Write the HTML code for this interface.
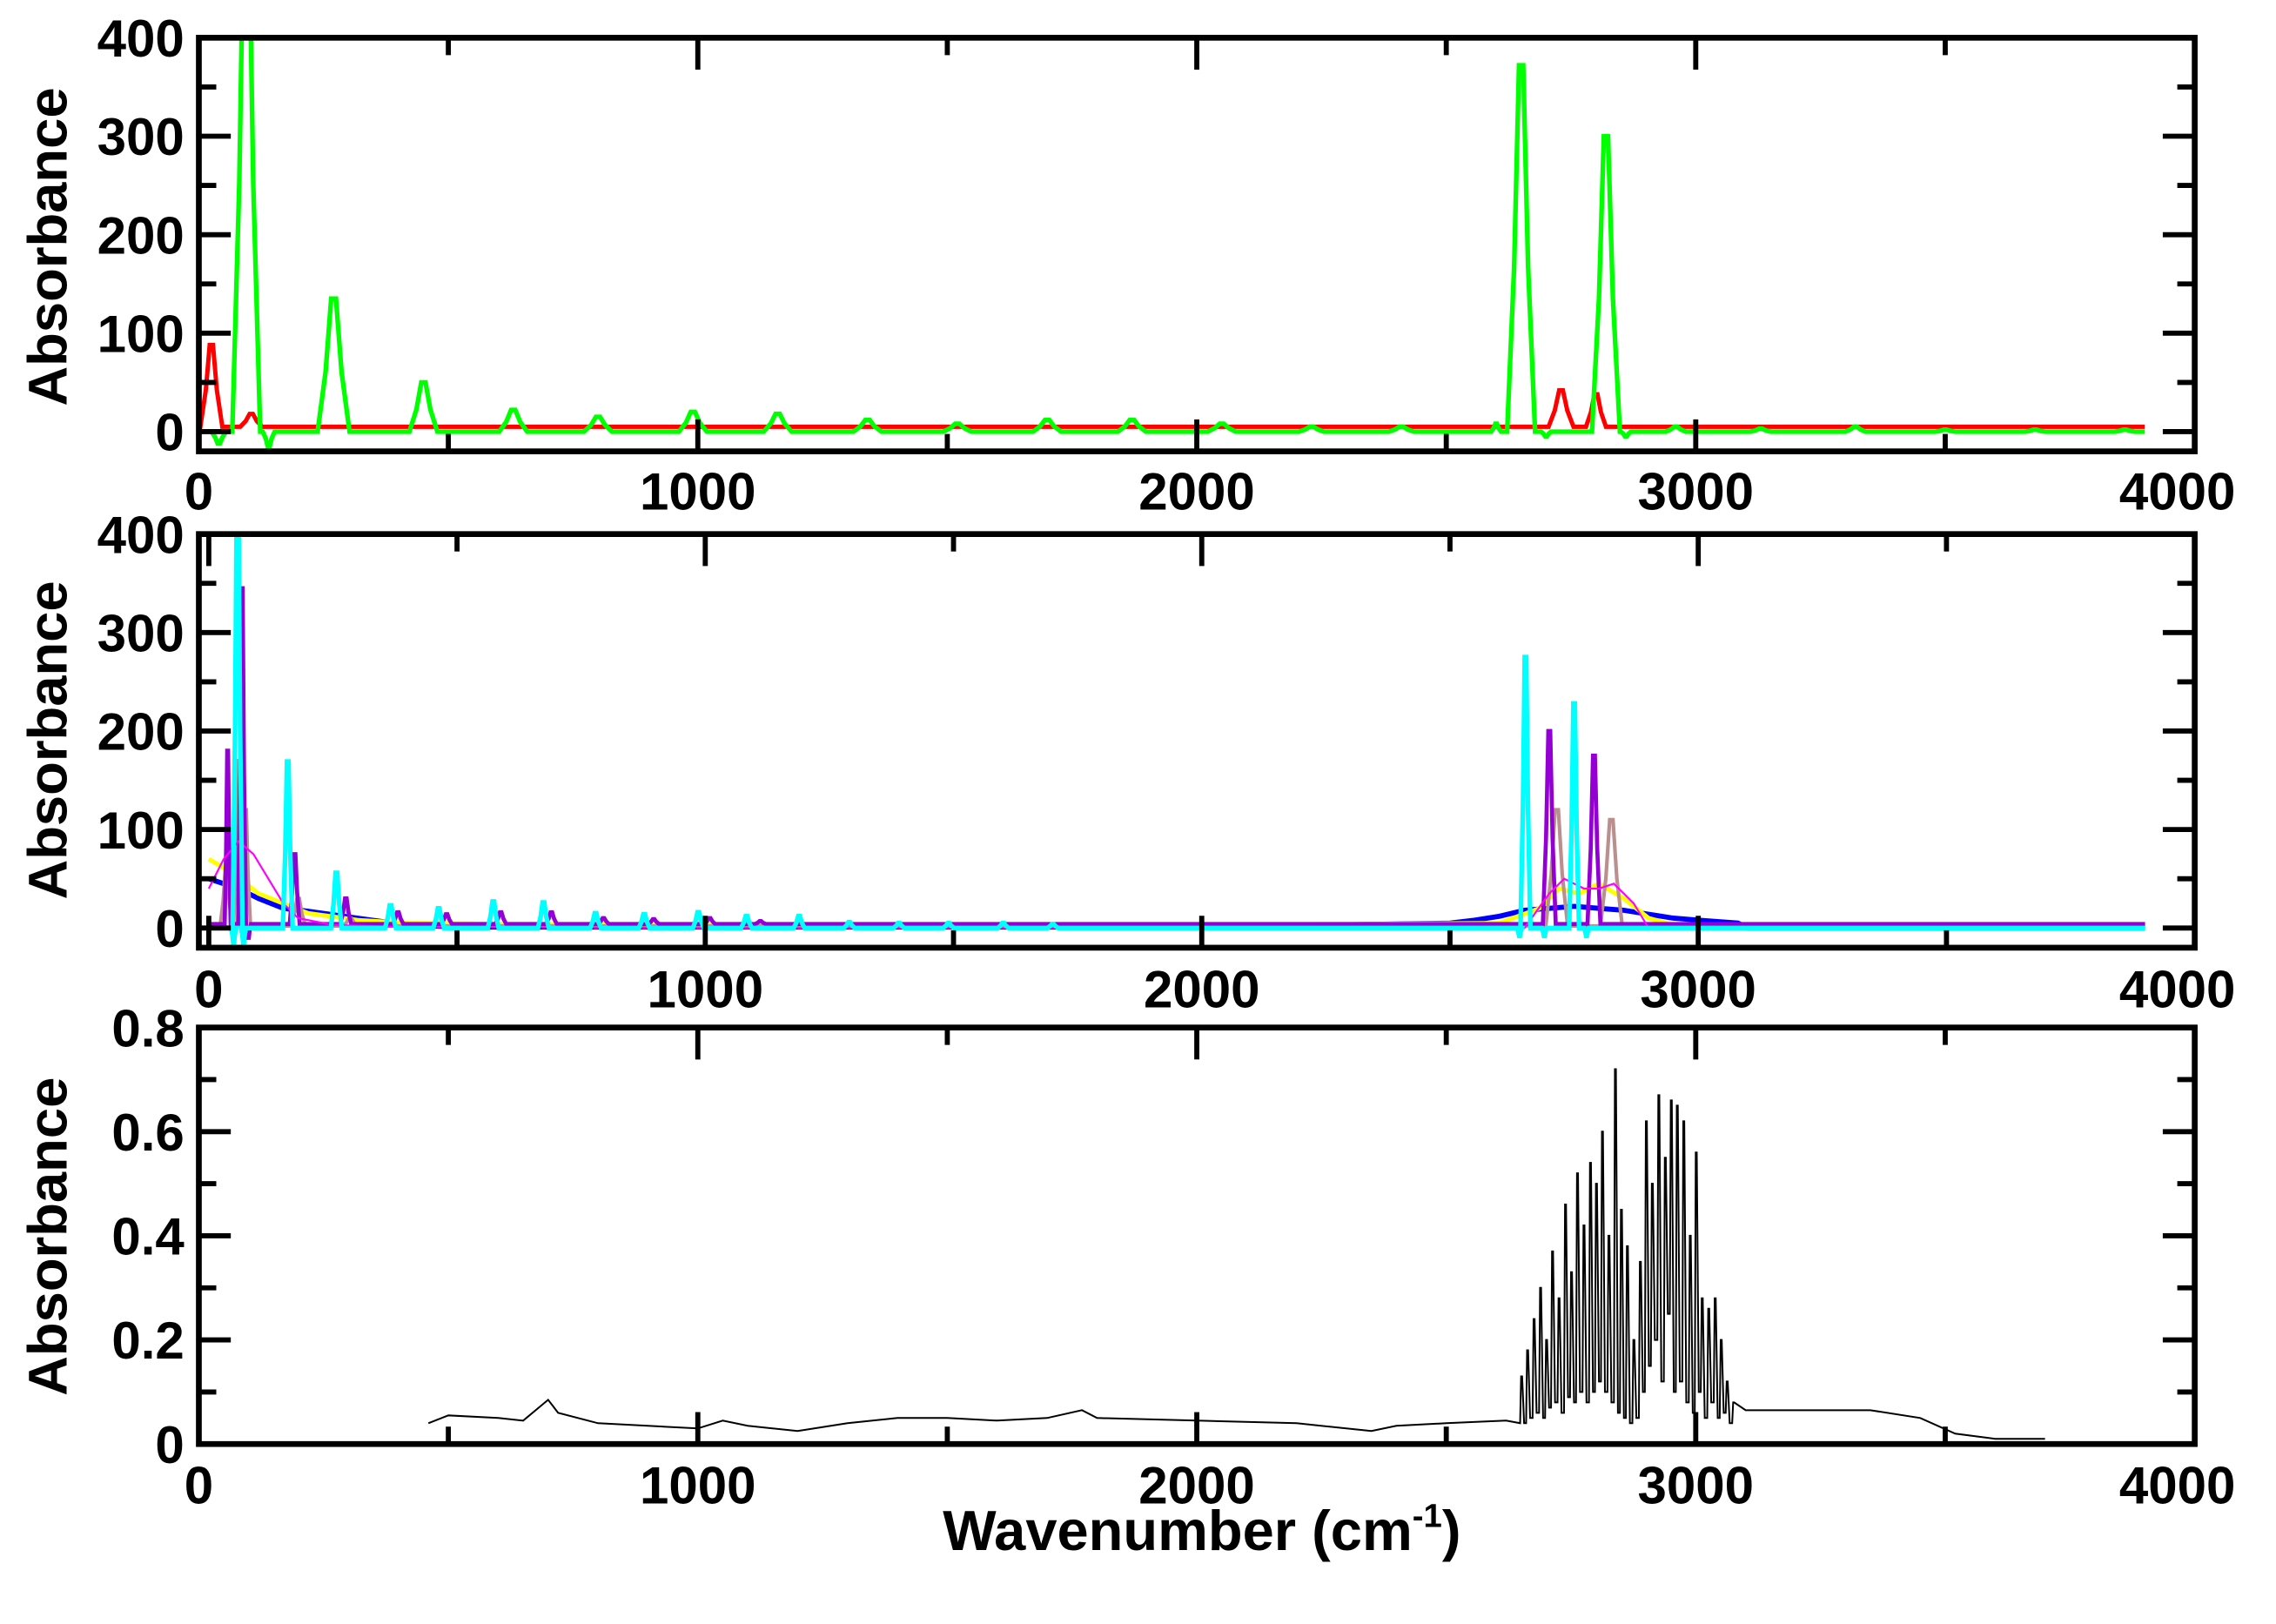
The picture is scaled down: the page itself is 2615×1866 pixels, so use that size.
<!DOCTYPE html>
<html><head><meta charset="utf-8"><style>
html,body{margin:0;padding:0;background:#fff;}
svg{display:block;}
text{font-family:"Liberation Sans",Arial,sans-serif;font-weight:bold;fill:#000;}
</style></head>
<body>
<svg id="fig" width="2615" height="1866" viewBox="0 0 1568 1119" preserveAspectRatio="none" xmlns="http://www.w3.org/2000/svg">
<rect x="0" y="0" width="1568" height="1119" fill="#fff"/>
<text x="828" y="1068" font-size="39" text-anchor="middle">Wavenumber (cm<tspan font-size="23" dy="-16">-1</tspan><tspan dy="16">)</tspan></text>
</svg>
<script>
// ---------- Panel 1 data (peak centres, heights, half-widths) ----------
const greenCenters = [40, 95, 140, 270, 450, 630, 800, 990, 1160, 1340, 1520, 1700, 1870, 2050, 2230, 2410, 2600, 2650, 2700, 2820, 2860, 2960, 3130, 3320, 3500, 3680, 3860];
const greenHeights = [-12, 560, -15, 135, 50, 22, 15, 20, 18, 12, 8, 12, 12, 8, 5, 5, 8, 372, -5, 300, -5, 5, 3, 5, 2, 2, 2];
const greenWidths  = [15, 28, 12, 32, 28, 28, 28, 28, 28, 28, 28, 28, 28, 28, 25, 25, 10, 28, 10, 28, 10, 20, 20, 20, 20, 20, 20];
const redCenters = [25, 105, 2730, 2800];
const redHeights = [88, 18, 42, 38];
const redWidths  = [22, 22, 25, 20];
const redBase = 5;
// ---------- Panel 2 data ----------
const cyanCenters = [50, 58, 70, 159, 257, 366, 463, 573, 674, 779, 877, 986, 1083, 1189, 1290, 1390, 1490, 1600, 1700, 2640, 2652, 2690, 2750, 2775];
const cyanHeights = [-15, 450, -15, 169, 56, 23, 20, 27, 26, 15, 14, 16, 12, 12, 6, 5, 5, 5, 4, -8, 275, -8, 228, -8];
const cyanWidths  = [5, 10, 5, 10, 11, 11, 11, 11, 11, 11, 11, 11, 11, 11, 11, 11, 11, 11, 11, 5, 10, 5, 10, 5];
const purpleCenters = [38, 67, 80, 173, 276, 381, 479, 588, 690, 795, 896, 1009, 1111, 2700, 2790];
const purpleHeights = [180, 345, -10, 75, 30, 16, 14, 16, 16, 10, 9, 10, 7, 200, 175];
const purpleWidths  = [6, 8, 5, 10, 11, 11, 11, 11, 11, 11, 11, 11, 11, 13, 13];
const purpleBase = 4;
const brownCenters = [35, 60, 74, 180, 285, 2715, 2825];
const brownHeights = [60, 170, 120, 30, 10, 120, 110];
const brownWidths  = [12, 10, 10, 15, 15, 22, 22];
const brownBase = 2;
const yellowX = [0, 50, 100, 150, 200, 300, 400, 600, 1000, 2000, 2600, 2680, 2720, 2760, 2800, 2850, 2900, 2950, 3000, 3900];
const yellowY = [70, 55, 35, 25, 15, 8, 5, 4, 3, 3, 5, 20, 40, 35, 45, 30, 10, 3, 2, 2];
const magentaX = [0, 30, 60, 90, 120, 150, 180, 250, 400, 1000, 2000, 2650, 2700, 2730, 2770, 2800, 2830, 2870, 2900, 3900];
const magentaY = [40, 70, 88, 75, 50, 25, 10, 3, 1, 0, 0, 0, 35, 50, 40, 40, 45, 25, 0, 0];
const blueX = [0, 60, 100, 150, 200, 300, 400, 500, 2000, 2500, 2550, 2600, 2650, 2700, 2750, 2800, 2850, 2900, 2950, 3000, 3080, 3100, 3900];
const blueY = [50, 40, 30, 20, 17, 10, 3, 1, 1, 5, 8, 12, 18, 20, 22, 20, 18, 14, 10, 8, 5, 0, 0];
// ---------- Panel 3 data ----------
const blackBaseX = [460, 500, 600, 650, 700, 720, 800, 900, 1000, 1050, 1100, 1200, 1300, 1400, 1500, 1600, 1700, 1770, 1800, 2000, 2200, 2350, 2400, 2500, 2620];
const blackBaseY = [0.04, 0.055, 0.05, 0.045, 0.085, 0.06, 0.04, 0.035, 0.03, 0.045, 0.035, 0.025, 0.04, 0.05, 0.05, 0.045, 0.05, 0.065, 0.05, 0.045, 0.04, 0.025, 0.035, 0.04, 0.045];
const spikeX = [2650, 2662, 2675, 2688, 2700, 2712, 2725, 2738, 2750, 2762, 2775, 2788, 2800, 2812, 2825, 2838, 2850, 2862, 2875, 2888, 2900, 2912, 2925, 2938, 2950, 2962, 2975, 2988, 3000, 3012, 3025, 3038, 3050, 3062, 3075];
const spikeY = [0.13, 0.18, 0.24, 0.30, 0.20, 0.37, 0.28, 0.46, 0.33, 0.52, 0.42, 0.54, 0.50, 0.60, 0.40, 0.72, 0.45, 0.38, 0.20, 0.35, 0.62, 0.50, 0.67, 0.55, 0.66, 0.65, 0.62, 0.40, 0.56, 0.28, 0.26, 0.28, 0.20, 0.12, 0.08];
const troughY = [0.04, 0.05, 0.06, 0.05, 0.07, 0.08, 0.06, 0.09, 0.08, 0.10, 0.08, 0.10, 0.12, 0.10, 0.08, 0.06, 0.05, 0.04, 0.05, 0.10, 0.15, 0.20, 0.12, 0.25, 0.10, 0.12, 0.08, 0.06, 0.10, 0.05, 0.08, 0.05, 0.06, 0.04];
const tailX = [3100, 3350, 3450, 3520, 3600, 3700];
const tailY = [0.065, 0.065, 0.05, 0.02, 0.01, 0.01];

const NS = 'http://www.w3.org/2000/svg';
const svg = document.getElementById('fig');
function mk(tag, attrs, parent) {
  const e = document.createElementNS(NS, tag);
  for (const k in attrs) e.setAttribute(k, attrs[k]);
  (parent || svg).appendChild(e);
  return e;
}
const panels = [
  {name: 'top', top: 26, bottom: 311, xmin: 0, xmax: 4000, ymin: -20, ymax: 400, major: 100, minor: 50, labels: ['0','100','200','300','400'], lblBase: 351, titleY: 170},
  {name: 'middle', top: 368, bottom: 653, xmin: -20, xmax: 4000, ymin: -20, ymax: 400, major: 100, minor: 50, labels: ['0','100','200','300','400'], lblBase: 694, titleY: 510},
  {name: 'bottom', top: 708, bottom: 995, xmin: 0, xmax: 4000, ymin: 0, ymax: 0.8, major: 0.2, minor: 0.1, labels: ['0','0.2','0.4','0.6','0.8'], lblBase: 1036, titleY: 852}
];
const L = 137, R = 1512;
panels.forEach(p => {
  p.sx = v => L + (v - p.xmin) / (p.xmax - p.xmin) * (R - L);
  p.sy = v => p.bottom - (v - p.ymin) / (p.ymax - p.ymin) * (p.bottom - p.top);
  const g = mk('g', {});
  
  
  p.g = g;
  const cp = mk('clipPath', {id: 'clip-' + p.name}, g);
  mk('rect', {x: L, y: p.top, width: R - L, height: p.bottom - p.top}, cp);
  p.plot = mk('g', {'clip-path': 'url(#clip-' + p.name + ')'}, g);
  
  
});
function line(p, xs, ys, color, w, name) {
  const d = xs.map((x, i) => (i ? 'L' : 'M') + p.sx(x).toFixed(2) + ' ' + p.sy(ys[i]).toFixed(2)).join(' ');
  const e = mk('path', {d: d, fill: 'none', stroke: color, 'stroke-width': w, 'stroke-linejoin': 'miter'}, p.plot);
  
  
}
function peaksToLine(centers, heights, widths, base, x0, x1) {
  const xs = [x0], ys = [base];
  centers.forEach((c, i) => {
    const w = widths[i], h = heights[i];
    xs.push(c - w, c - w * 0.5, c - w * 0.15, c + w * 0.15, c + w * 0.5, c + w);
    ys.push(base, base + (h - base) * 0.45, h, h, base + (h - base) * 0.45, base);
  });
  xs.push(x1); ys.push(base);
  return [xs, ys];
}
// Panel 1
const P1 = panels[0];
let r = peaksToLine(redCenters, redHeights, redWidths, redBase, 0, 3900);
line(P1, r[0], r[1], '#ff0000', 3, 'red-series');
r = peaksToLine(greenCenters, greenHeights, greenWidths, 0, 0, 3900);
line(P1, r[0], r[1], '#00ff00', 3.2, 'green-series');
// Panel 2
const P2 = panels[1];
line(P2, blueX, blueY, '#0000ff', 3.5, 'blue-series');
line(P2, yellowX, yellowY, '#ffff00', 3, 'yellow-series');
r = peaksToLine(brownCenters, brownHeights, brownWidths, brownBase, 0, 3900);
line(P2, r[0], r[1], '#bc8f8f', 2.5, 'brown-series');
r = peaksToLine(purpleCenters, purpleHeights, purpleWidths, purpleBase, 0, 3900);
line(P2, r[0], r[1], '#9400d3', 2.8, 'purple-series');
line(P2, magentaX, magentaY, '#ff00ff', 1.3, 'magenta-series');
r = peaksToLine(cyanCenters, cyanHeights, cyanWidths, 0, 0, 3900);
line(P2, r[0], r[1], '#00ffff', 3.2, 'cyan-series');
// Panel 3
const P3 = panels[2];
const bx = blackBaseX.slice(), by = blackBaseY.slice();
spikeX.forEach((x, i) => {
  bx.push(x - 2, x, x + 2); by.push(i ? troughY[i - 1] : 0.04, spikeY[i], spikeY[i]);
  if (i < troughY.length) { bx.push(x + 6); by.push(troughY[i]); }
});
tailX.forEach((x, i) => { bx.push(x); by.push(tailY[i]); });
line(P3, bx, by, '#000', 1.2, 'black-series');
// Axes, ticks, labels
panels.forEach(p => {
  const g = p.g;
  const fr = mk('rect', {x: L, y: p.top, width: R - L, height: p.bottom - p.top, fill: 'none', stroke: '#000', 'stroke-width': 4}, g);
  
  
  for (let v = 0; v <= p.ymax + 1e-9; v += p.minor) {
    const isMaj = Math.abs(v / p.major - Math.round(v / p.major)) < 1e-6;
    const len = isMaj ? 22 : 12, y = p.sy(v);
    mk('line', {x1: L, x2: L + len, y1: y, y2: y, stroke: '#000', 'stroke-width': 3.5}, g);
    mk('line', {x1: R, x2: R - len, y1: y, y2: y, stroke: '#000', 'stroke-width': 3.5}, g);
  }
  for (let v = 0; v <= 4000; v += 500) {
    const len = v % 1000 === 0 ? 22 : 12, x = p.sx(v);
    mk('line', {x1: x, x2: x, y1: p.bottom, y2: p.bottom - len, stroke: '#000', 'stroke-width': 3.5}, g);
    mk('line', {x1: x, x2: x, y1: p.top, y2: p.top + len, stroke: '#000', 'stroke-width': 3.5}, g);
  }
  p.labels.forEach((t, i) => {
    const e = mk('text', {x: 127, y: p.sy(i * p.major) + 13, 'font-size': 36, 'text-anchor': 'end'}, g);
    e.textContent = t;
    
    
  });
  ['0','1000','2000','3000','4000'].forEach((t, i) => {
    const e = mk('text', {x: p.sx(i * 1000) + (i === 4 ? -12 : 0), y: p.lblBase, 'font-size': 36, 'text-anchor': 'middle'}, g);
    e.textContent = t;
    
    
  });
  const yt = mk('text', {x: 0, y: 0, 'font-size': 38, 'text-anchor': 'middle', transform: 'translate(46 ' + p.titleY + ') rotate(-90)'}, g);
  yt.textContent = 'Absorbance';
  
  
});
</script>
</body></html>
